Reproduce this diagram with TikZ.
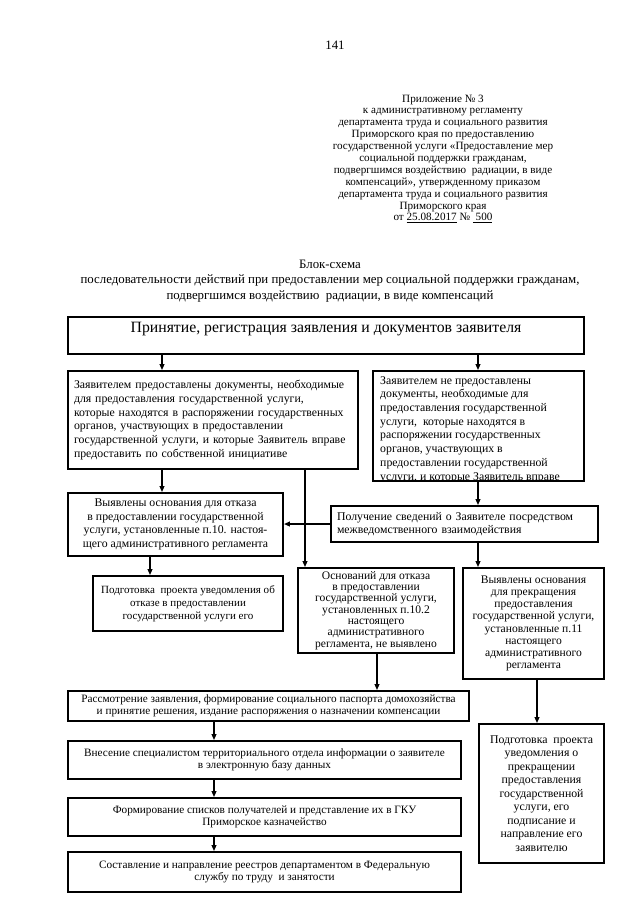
\documentclass[tikz,border=0pt]{standalone}
\usepackage{fontspec}
\setmainfont{Liberation Serif}
\usetikzlibrary{arrows.meta,calc}
\newdimen\pxu \pxu=0.3281mm
\newcommand\pxw[1]{\the\dimexpr#1\pxu\relax}
\begin{document}
\begin{tikzpicture}[x=0.3281mm,y=-0.3281mm,
  box/.style={draw, line width=1.9pt, anchor=north west, inner ysep=0pt, inner xsep=\pxw{6}},
  lbox/.style={box, align=left},
  cbox/.style={box, align=center, inner xsep=\pxw{2}},
  arr/.style={line width=1.2pt, -{Triangle[length=5.5pt,width=4.5pt]}},
  fa/.style={font=\fontsize{11}{12.8}\selectfont},
  fb/.style={font=\fontsize{10.5}{11.5}\selectfont},
  plain/.style={inner sep=0pt, font=\fontsize{12}{13.6}\selectfont},
]
\useasboundingbox (0,0) rectangle (640,905);
\fill[white] (0,0) rectangle (640,905);

% header
\node[plain] (num) at (335,45) {141};
\node[plain, align=center, font=\fontsize{10.4}{11.1}\selectfont] (app) at (443,159) {Приложение № 3\\
к административному регламенту\\
департамента труда и социального развития\\
Приморского края по предоставлению\\
государственной услуги «Предоставление мер\\
социальной поддержки гражданам,\\
подвергшимся воздействию\ \ радиации, в виде\\
компенсаций», утвержденному приказом\\
департамента труда и социального развития\\
Приморского края\\
от \underline{25.08.2017} № \underline{\ 500}};
\node[plain, align=center, font=\fontsize{12}{14.5}\selectfont] (title) at (330,281) {Блок-схема\\
последовательности действий при предоставлении мер социальной поддержки гражданам,\\
подвергшимся воздействию\ \ радиации, в виде компенсаций};

% boxes
\node[box, minimum width=\pxw{516}, minimum height=\pxw{37}] (T) at (67,316) {};
\coordinate (yT) at (0,329);
\node[inner sep=0pt, font=\fontsize{14.7}{16}\selectfont] (Tt) at (T.north |- yT) {Принятие, регистрация заявления и документов заявителя};

\node[lbox, fa, minimum width=\pxw{290}, minimum height=\pxw{98}, text width=\pxw{278}] (A) at (67,370)
{Заявителем предоставлены документы, необходимые\\
для предоставления государственной услуги,\\
которые находятся в распоряжении государственных\\
органов, участвующих в предоставлении\\
государственной услуги, и которые Заявитель вправе\\
предоставить по собственной инициативе};

\node[box, minimum width=\pxw{211}, minimum height=\pxw{110}] (B) at (372,370) {};
\begin{scope}
\clip (B.north west) rectangle ([yshift=1.9pt]B.south east);
\node[fa, align=left, anchor=north west, inner sep=0pt] (Bt) at ($(B.north west)+(8,6)$)
{Заявителем не предоставлены\\
документы, необходимые для\\
предоставления государственной\\
услуги,\ \ которые находятся в\\
распоряжении государственных\\
органов, участвующих в\\
предоставлении государственной\\
услуги, и которые Заявитель вправе};
\end{scope}

\node[cbox, fa, minimum width=\pxw{215}, minimum height=\pxw{63}] (C) at (67,492)
{Выявлены основания для отказа\\
в предоставлении государственной\\
услуги, установленные п.10. настоя-\\
щего административного регламента};

\node[lbox, fa, minimum width=\pxw{267}, minimum height=\pxw{36}, text width=\pxw{255}] (D) at (330,505)
{Получение сведений о Заявителе посредством\\
межведомственного взаимодействия};

\node[cbox, font=\fontsize{10.3}{12.4}\selectfont, minimum width=\pxw{190}, minimum height=\pxw{55}] (G) at (92,575)
{Подготовка\ \ проекта уведомления об\\
отказе в предоставлении\\
государственной услуги его};

\node[cbox, font=\fontsize{10.8}{10.6}\selectfont, minimum width=\pxw{156}, minimum height=\pxw{85}] (E) at (297,567)
{Оснований для отказа\\
в предоставлении\\
государственной услуги,\\
установленных п.10.2\\
настоящего\\
административного\\
регламента, не выявлено};

\node[cbox, font=\fontsize{10.8}{11.4}\selectfont, minimum width=\pxw{141}, minimum height=\pxw{111}] (F) at (462,567)
{Выявлены основания\\
для прекращения\\
предоставления\\
государственной услуги,\\
установленные п.11\\
настоящего\\
административного\\
регламента};

\node[cbox, fb, minimum width=\pxw{401}, minimum height=\pxw{30}] (H) at (67,690)
{Рассмотрение заявления, формирование социального паспорта домохозяйства\\
и принятие решения, издание распоряжения о назначении компенсации};

\node[cbox, font=\fontsize{11}{12.6}\selectfont, minimum width=\pxw{125}, minimum height=\pxw{139}] (I) at (478,723)
{Подготовка\ \ проекта\\
уведомления о\\
прекращении\\
предоставления\\
государственной\\
услуги, его\\
подписание и\\
направление его\\
заявителю};

\node[cbox, fb, minimum width=\pxw{393}, minimum height=\pxw{38}] (J) at (67,740)
{Внесение специалистом территориального отдела информации о заявителе\\
в электронную базу данных};

\node[cbox, fb, minimum width=\pxw{393}, minimum height=\pxw{38}] (K) at (67,797)
{Формирование списков получателей и представление их в ГКУ\\
Приморское казначейство};

\node[cbox, fb, minimum width=\pxw{393}, minimum height=\pxw{40}] (L) at (67,851)
{Составление и направление реестров департаментом в Федеральную\\
службу по труду\ \ и занятости};

% connector columns
\coordinate (x162) at (162,0);
\coordinate (x478) at (478,0);
\coordinate (x305) at (305,0);
\coordinate (x150) at (150,0);
\coordinate (x377) at (377,0);
\coordinate (x537) at (537,0);
\coordinate (x214) at (214,0);

\draw[arr] (T.south -| x162) -- (A.north -| x162);
\draw[arr] (T.south -| x478) -- (B.north -| x478);
\draw[arr] (A.south -| x162) -- (C.north -| x162);
\draw[arr] (A.south -| x305) -- (E.north -| x305);
\draw[arr] (B.south -| x478) -- (D.north -| x478);
\draw[arr] (D.west) -- (C.east |- D.west);
\draw[arr] (D.south -| x478) -- (F.north -| x478);
\draw[arr] (C.south -| x150) -- (G.north -| x150);
\draw[arr] (E.south -| x377) -- (H.north -| x377);
\draw[arr] (F.south -| x537) -- (I.north -| x537);
\draw[arr] (H.south -| x214) -- (J.north -| x214);
\draw[arr] (J.south -| x214) -- (K.north -| x214);
\draw[arr] (K.south -| x214) -- (L.north -| x214);
\end{tikzpicture}
\end{document}
